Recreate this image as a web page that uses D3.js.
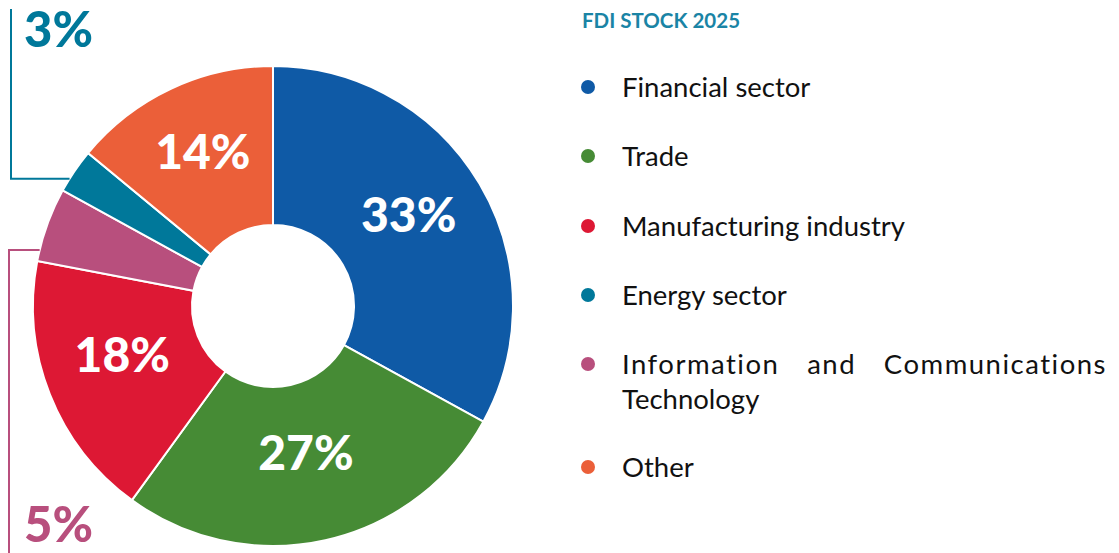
<!DOCTYPE html>
<html><head><meta charset="utf-8">
<script src="https://cdn.jsdelivr.net/npm/d3@7"></script>
<style>body{margin:0;background:#fff}svg{display:block}</style>
</head><body>
<svg id="chart" width="1119" height="553"></svg>
<script>
const categories = ["Financial sector","Trade","Manufacturing industry","Energy sector","Information and Communications Technology","Other"];
const sliceOrder = ["Financial sector","Trade","Manufacturing industry","Information and Communications Technology","Energy sector","Other"];
const values = [33,27,18,5,3,14];
const labels = ["33%","27%","18%","5%","3%","14%"];
const colors = ["#0f5aa6","#468b35","#dd1834","#b84f7d","#00789a","#eb5f39"];
const legendColors = ["#0f5aa6","#468b35","#dd1834","#00789a","#b84f7d","#eb5f39"];
const title = "FDI STOCK 2025";

const svg = d3.select("#chart");
const cx = 273, cy = 306, R = 240, r = 81;
const g = svg.append("g").attr("transform",`translate(${cx},${cy})`);
const pie = d3.pie().sort(null).value(d=>d.v);
const data = pie(values.map((v,i)=>({v, name:sliceOrder[i], label:labels[i], color:colors[i]})));
const arc = d3.arc().innerRadius(r).outerRadius(R);
g.selectAll("path").data(data).join("path")
  .attr("d",arc).attr("fill",d=>d.data.color)
  .attr("stroke","#fff").attr("stroke-width",2);

const font = "Lato, 'Open Sans', sans-serif";
const labelArc = d3.arc().innerRadius(160).outerRadius(160);
data.filter(d=>d.data.v>=10).forEach(d=>{
  const [x,y] = labelArc.centroid(d);
  g.append("text").attr("x",x-2).attr("y",y-5).attr("text-anchor","middle")
   .attr("dominant-baseline","middle")
   .attr("font-family",font).attr("font-weight",900).attr("font-size",48)
   .attr("fill","#fff").text(d.data.label);
});

// leader annotations for small slices
function outerPt(d, frac){
  const a = d.startAngle + (d.endAngle-d.startAngle)*frac;
  return [cx + R*Math.sin(a), cy - R*Math.cos(a)];
}
const small = [
  {d:data[4], frac:0.3, lx:11, ly0:9, ly1:null, tx:24, ty:47},
  {d:data[3], frac:0.15, lx:9, ly0:null, ly1:553, tx:24, ty:542}
];
small.forEach(s=>{
  const [px,py] = outerPt(s.d, s.frac);
  const pts = s.ly0!==null ? [[s.lx,s.ly0],[s.lx,py],[px,py]] : [[px,py],[s.lx,py],[s.lx,s.ly1]];
  svg.append("path").attr("d",d3.line()(pts)).attr("fill","none")
     .attr("stroke",s.d.data.color).attr("stroke-width",2);
  svg.append("text").attr("x",s.tx).attr("y",s.ty)
     .attr("font-family",font).attr("font-weight",900).attr("font-size",49)
     .attr("fill",s.d.data.color).text(s.d.data.label);
});

// legend
svg.append("text").attr("x",582).attr("y",28).attr("font-family",font)
   .attr("font-weight",700).attr("font-size",20.5).attr("fill","#1a84a5").text(title);
const legY = [87,156,226,295,364,467];
const fs = 27.5, tx = 622, rightEdge = 1107;
categories.forEach((c,i)=>{
  svg.append("circle").attr("cx",588).attr("cy",legY[i]).attr("r",7).attr("fill",legendColors[i]);
  if(c.startsWith("Information")){
    // justified first line, last line left-aligned
    const words = ["Information","and","Communications"];
    const nodes = words.map(w=>svg.append("text").attr("y",legY[i]+10).attr("font-family",font)
      .attr("font-size",fs).attr("fill","#111").attr("letter-spacing",1.5).text(w));
    const widths = nodes.map(n=>n.node().getComputedTextLength());
    const gap = (rightEdge - tx - d3.sum(widths))/(words.length-1);
    let x = tx;
    nodes.forEach((n,k)=>{ n.attr("x",x); x += widths[k]+gap; });
    svg.append("text").attr("x",tx).attr("y",legY[i]+45).attr("font-family",font)
      .attr("font-size",fs).attr("fill","#111").text("Technology");
  } else {
    svg.append("text").attr("x",tx).attr("y",legY[i]+10).attr("font-family",font)
      .attr("font-size",fs).attr("fill","#111").text(c);
  }
});
</script>
</body></html>
